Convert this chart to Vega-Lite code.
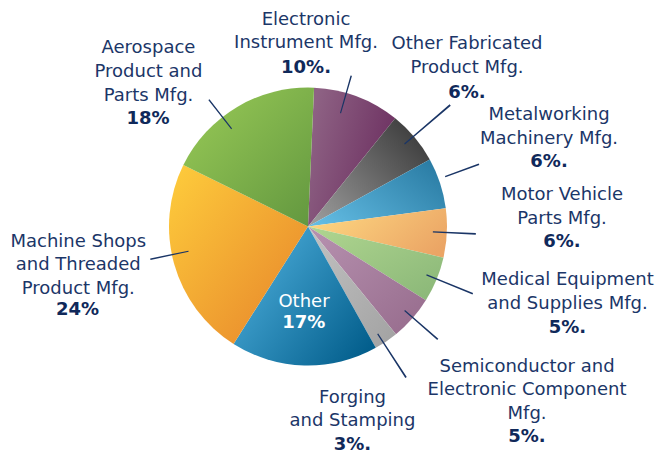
{
  "$schema": "https://vega.github.io/schema/vega-lite/v6.json",
  "autosize": "none",
  "width": 616,
  "height": 453,
  "padding": {"left": 0, "top": 0, "right": 44, "bottom": 0},
  "background": "white",
  "config": {"view": {"stroke": null}},
  "data": {"values": [
    {"key": "Electronic", "name": "Electronic\nInstrument Mfg.", "pct": "10%.", "value": 10.1},
    {"key": "OtherFab", "name": "Other Fabricated\nProduct Mfg.", "pct": "6%.", "value": 6.2},
    {"key": "Metal", "name": "Metalworking\nMachinery Mfg.", "pct": "6%.", "value": 5.9},
    {"key": "Motor", "name": "Motor Vehicle\nParts Mfg.", "pct": "6%.", "value": 5.7},
    {"key": "Medical", "name": "Medical Equipment\nand Supplies Mfg.", "pct": "5%.", "value": 5.3},
    {"key": "Semi", "name": "Semiconductor and\nElectronic Component\nMfg.", "pct": "5%.", "value": 5.2},
    {"key": "Forging", "name": "Forging\nand Stamping", "pct": "3%.", "value": 2.8},
    {"key": "Other", "name": "Other", "pct": "17%", "value": 17.1},
    {"key": "Machine", "name": "Machine Shops\nand Threaded\nProduct Mfg.", "pct": "24%", "value": 23.3},
    {"key": "Aero", "name": "Aerospace\nProduct and\nParts Mfg.", "pct": "18%", "value": 18.4}
  ]},
  "transform": [{"stack": "value", "groupby": [], "as": ["v0", "v1"]}],
  "encoding": {
    "theta": {"field": "v1", "type": "quantitative", "stack": null, "scale": {"domain": [0, 100], "range": [0.0436332, 6.3268185]}}
  },
  "layer": [
    {
      "mark": {"type": "arc", "outerRadius": 139, "stroke": null},
      "encoding": {
        "theta": {"field": "v0", "type": "quantitative", "stack": null, "scale": {"domain": [0, 100], "range": [0.0436332, 6.3268185]}},
        "theta2": {"field": "v1"},
        "fill": {
          "condition": [
            {"test": "datum.key === 'Electronic'", "value": {"gradient": "linear", "x1": 0, "y1": 0.3, "x2": 1, "y2": 0.7, "stops": [{"offset": 0, "color": "#8e6284"}, {"offset": 1, "color": "#6a2c5e"}]}},
            {"test": "datum.key === 'OtherFab'", "value": {"gradient": "linear", "x1": 0, "y1": 1, "x2": 1, "y2": 0.2, "stops": [{"offset": 0, "color": "#a0a0a0"}, {"offset": 1, "color": "#3c3c3c"}]}},
            {"test": "datum.key === 'Metal'", "value": {"gradient": "linear", "x1": 0, "y1": 0.8, "x2": 1, "y2": 0.2, "stops": [{"offset": 0, "color": "#62bbe2"}, {"offset": 1, "color": "#2a7ca4"}]}},
            {"test": "datum.key === 'Motor'", "value": {"gradient": "linear", "x1": 0, "y1": 0.3, "x2": 1, "y2": 0.7, "stops": [{"offset": 0, "color": "#fdd680"}, {"offset": 1, "color": "#eba565"}]}},
            {"test": "datum.key === 'Medical'", "value": {"gradient": "linear", "x1": 0, "y1": 0, "x2": 1, "y2": 1, "stops": [{"offset": 0, "color": "#b0d690"}, {"offset": 1, "color": "#89b677"}]}},
            {"test": "datum.key === 'Semi'", "value": {"gradient": "linear", "x1": 0, "y1": 0, "x2": 1, "y2": 1, "stops": [{"offset": 0, "color": "#b792b0"}, {"offset": 1, "color": "#966b8c"}]}},
            {"test": "datum.key === 'Forging'", "value": {"gradient": "linear", "x1": 0, "y1": 0, "x2": 1, "y2": 1, "stops": [{"offset": 0, "color": "#c2c2c2"}, {"offset": 1, "color": "#a2a2a2"}]}},
            {"test": "datum.key === 'Other'", "value": {"gradient": "linear", "x1": 0, "y1": 0.2, "x2": 1, "y2": 0.9, "stops": [{"offset": 0, "color": "#4daedb"}, {"offset": 1, "color": "#005b89"}]}},
            {"test": "datum.key === 'Machine'", "value": {"gradient": "linear", "x1": 0, "y1": 0, "x2": 1, "y2": 1, "stops": [{"offset": 0, "color": "#fecd3c"}, {"offset": 1, "color": "#e6822a"}]}}
          ],
          "value": {"gradient": "linear", "x1": 0, "y1": 0, "x2": 1, "y2": 1, "stops": [{"offset": 0, "color": "#9acb57"}, {"offset": 1, "color": "#62973f"}]}
        }
      }
    },
    {"transform": [{"filter": "datum.key === 'Aero'"}], "mark": {"type": "arc", "innerRadius": 124, "outerRadius": 161, "thetaOffset": -0.7117, "theta2Offset": -0.7021, "color": "#1a3566"}, "encoding": {"theta2": {"field": "v1"}}},
    {"transform": [{"filter": "datum.key === 'Electronic'"}], "mark": {"type": "arc", "innerRadius": 118, "outerRadius": 157, "thetaOffset": -0.4038, "theta2Offset": -0.3942, "color": "#1a3566"}, "encoding": {"theta2": {"field": "v1"}}},
    {"transform": [{"filter": "datum.key === 'OtherFab'"}], "mark": {"type": "arc", "innerRadius": 127, "outerRadius": 187, "thetaOffset": -0.2087, "theta2Offset": -0.1991, "color": "#1a3566"}, "encoding": {"theta2": {"field": "v1"}}},
    {"transform": [{"filter": "datum.key === 'Metal'"}], "mark": {"type": "arc", "innerRadius": 146, "outerRadius": 182, "thetaOffset": -0.2216, "theta2Offset": -0.2120, "color": "#1a3566"}, "encoding": {"theta2": {"field": "v1"}}},
    {"transform": [{"filter": "datum.key === 'Motor'"}], "mark": {"type": "arc", "innerRadius": 125, "outerRadius": 168, "thetaOffset": -0.1870, "theta2Offset": -0.1774, "color": "#1a3566"}, "encoding": {"theta2": {"field": "v1"}}},
    {"transform": [{"filter": "datum.key === 'Medical'"}], "mark": {"type": "arc", "innerRadius": 128, "outerRadius": 178, "thetaOffset": -0.1762, "theta2Offset": -0.1666, "color": "#1a3566"}, "encoding": {"theta2": {"field": "v1"}}},
    {"transform": [{"filter": "datum.key === 'Semi'"}], "mark": {"type": "arc", "innerRadius": 128, "outerRadius": 172, "thetaOffset": -0.1748, "theta2Offset": -0.1652, "color": "#1a3566"}, "encoding": {"theta2": {"field": "v1"}}},
    {"transform": [{"filter": "datum.key === 'Forging'"}], "mark": {"type": "arc", "innerRadius": 128, "outerRadius": 180, "thetaOffset": -0.0715, "theta2Offset": -0.0619, "color": "#1a3566"}, "encoding": {"theta2": {"field": "v1"}}},
    {"transform": [{"filter": "datum.key === 'Machine'"}], "mark": {"type": "arc", "innerRadius": 122, "outerRadius": 161, "thetaOffset": -0.6673, "theta2Offset": -0.6577, "color": "#1a3566"}, "encoding": {"theta2": {"field": "v1"}}},

    {"transform": [{"filter": "datum.key === 'Aero'"}], "mark": {"type": "text", "radius": 235.5, "thetaOffset": -0.7878, "align": "center", "baseline": "alphabetic", "lineBreak": "\n", "lineHeight": 23.7, "font": "DejaVu Sans", "fontSize": 18, "color": "#1b3668"}, "encoding": {"text": {"field": "name"}}},
    {"transform": [{"filter": "datum.key === 'Electronic'"}], "mark": {"type": "text", "radius": 201.8, "thetaOffset": -0.6882, "align": "center", "baseline": "alphabetic", "lineBreak": "\n", "lineHeight": 23.7, "font": "DejaVu Sans", "fontSize": 18, "color": "#1b3668"}, "encoding": {"text": {"field": "name"}}},
    {"transform": [{"filter": "datum.key === 'OtherFab'"}], "mark": {"type": "text", "radius": 238.1, "thetaOffset": -0.3365, "align": "center", "baseline": "alphabetic", "lineBreak": "\n", "lineHeight": 23.7, "font": "DejaVu Sans", "fontSize": 18, "color": "#1b3668"}, "encoding": {"text": {"field": "name"}}},
    {"transform": [{"filter": "datum.key === 'Metal'"}], "mark": {"type": "text", "radius": 263.5, "thetaOffset": -0.2838, "align": "center", "baseline": "alphabetic", "lineBreak": "\n", "lineHeight": 23.7, "font": "DejaVu Sans", "fontSize": 18, "color": "#1b3668"}, "encoding": {"text": {"field": "name"}}},
    {"transform": [{"filter": "datum.key === 'Motor'"}], "mark": {"type": "text", "radius": 255.4, "thetaOffset": -0.3299, "align": "center", "baseline": "alphabetic", "lineBreak": "\n", "lineHeight": 23.7, "font": "DejaVu Sans", "fontSize": 18, "color": "#1b3668"}, "encoding": {"text": {"field": "name"}}},
    {"transform": [{"filter": "datum.key === 'Medical'"}], "mark": {"type": "text", "radius": 266.0, "thetaOffset": -0.3372, "align": "center", "baseline": "alphabetic", "lineBreak": "\n", "lineHeight": 23.7, "font": "DejaVu Sans", "fontSize": 18, "color": "#1b3668"}, "encoding": {"text": {"field": "name"}}},
    {"transform": [{"filter": "datum.key === 'Semi'"}], "mark": {"type": "text", "radius": 262.8, "thetaOffset": -0.3000, "align": "center", "baseline": "alphabetic", "lineBreak": "\n", "lineHeight": 23.7, "font": "DejaVu Sans", "fontSize": 18, "color": "#1b3668"}, "encoding": {"text": {"field": "name"}}},
    {"transform": [{"filter": "datum.key === 'Forging'"}], "mark": {"type": "text", "radius": 181.7, "thetaOffset": 0.2620, "align": "center", "baseline": "alphabetic", "lineBreak": "\n", "lineHeight": 23.7, "font": "DejaVu Sans", "fontSize": 18, "color": "#1b3668"}, "encoding": {"text": {"field": "name"}}},
    {"transform": [{"filter": "datum.key === 'Other'"}], "mark": {"type": "text", "radius": 80.3, "thetaOffset": -0.5152, "align": "center", "baseline": "alphabetic", "lineBreak": "\n", "lineHeight": 23.7, "font": "DejaVu Sans", "fontSize": 18, "color": "#ffffff"}, "encoding": {"text": {"field": "name"}}},
    {"transform": [{"filter": "datum.key === 'Machine'"}], "mark": {"type": "text", "radius": 230.6, "thetaOffset": -0.5461, "align": "center", "baseline": "alphabetic", "lineBreak": "\n", "lineHeight": 23.7, "font": "DejaVu Sans", "fontSize": 18, "color": "#1b3668"}, "encoding": {"text": {"field": "name"}}},

    {"transform": [{"filter": "datum.key === 'Aero'"}], "mark": {"type": "text", "radius": 190.0, "thetaOffset": -1.0446, "align": "center", "baseline": "alphabetic", "font": "DejaVu Sans", "fontSize": 18, "fontWeight": "bold", "color": "#10295a"}, "encoding": {"text": {"field": "pct"}}},
    {"transform": [{"filter": "datum.key === 'Electronic'"}], "mark": {"type": "text", "radius": 153.8, "thetaOffset": -0.6912, "align": "center", "baseline": "alphabetic", "font": "DejaVu Sans", "fontSize": 18, "fontWeight": "bold", "color": "#10295a"}, "encoding": {"text": {"field": "pct"}}},
    {"transform": [{"filter": "datum.key === 'OtherFab'"}], "mark": {"type": "text", "radius": 204.6, "thetaOffset": -0.1777, "align": "center", "baseline": "alphabetic", "font": "DejaVu Sans", "fontSize": 18, "fontWeight": "bold", "color": "#10295a"}, "encoding": {"text": {"field": "pct"}}},
    {"transform": [{"filter": "datum.key === 'Metal'"}], "mark": {"type": "text", "radius": 248.2, "thetaOffset": -0.1086, "align": "center", "baseline": "alphabetic", "font": "DejaVu Sans", "fontSize": 18, "fontWeight": "bold", "color": "#10295a"}, "encoding": {"text": {"field": "pct"}}},
    {"transform": [{"filter": "datum.key === 'Motor'"}], "mark": {"type": "text", "radius": 254.85, "thetaOffset": -0.1442, "align": "center", "baseline": "alphabetic", "font": "DejaVu Sans", "fontSize": 18, "fontWeight": "bold", "color": "#10295a"}, "encoding": {"text": {"field": "pct"}}},
    {"transform": [{"filter": "datum.key === 'Medical'"}], "mark": {"type": "text", "radius": 280.4, "thetaOffset": -0.1703, "align": "center", "baseline": "alphabetic", "font": "DejaVu Sans", "fontSize": 18, "fontWeight": "bold", "color": "#10295a"}, "encoding": {"text": {"field": "pct"}}},
    {"transform": [{"filter": "datum.key === 'Semi'"}], "mark": {"type": "text", "radius": 307.0, "thetaOffset": -0.1089, "align": "center", "baseline": "alphabetic", "font": "DejaVu Sans", "fontSize": 18, "fontWeight": "bold", "color": "#10295a"}, "encoding": {"text": {"field": "pct"}}},
    {"transform": [{"filter": "datum.key === 'Forging'"}], "mark": {"type": "text", "radius": 227.9, "thetaOffset": 0.3128, "align": "center", "baseline": "alphabetic", "font": "DejaVu Sans", "fontSize": 18, "fontWeight": "bold", "color": "#10295a"}, "encoding": {"text": {"field": "pct"}}},
    {"transform": [{"filter": "datum.key === 'Other'"}], "mark": {"type": "text", "radius": 101.9, "thetaOffset": -0.5229, "align": "center", "baseline": "alphabetic", "font": "DejaVu Sans", "fontSize": 18, "fontWeight": "bold", "color": "#ffffff"}, "encoding": {"text": {"field": "pct"}}},
    {"transform": [{"filter": "datum.key === 'Machine'"}], "mark": {"type": "text", "radius": 246.9, "thetaOffset": -0.8250, "align": "center", "baseline": "alphabetic", "font": "DejaVu Sans", "fontSize": 18, "fontWeight": "bold", "color": "#10295a"}, "encoding": {"text": {"field": "pct"}}}
  ]
}
